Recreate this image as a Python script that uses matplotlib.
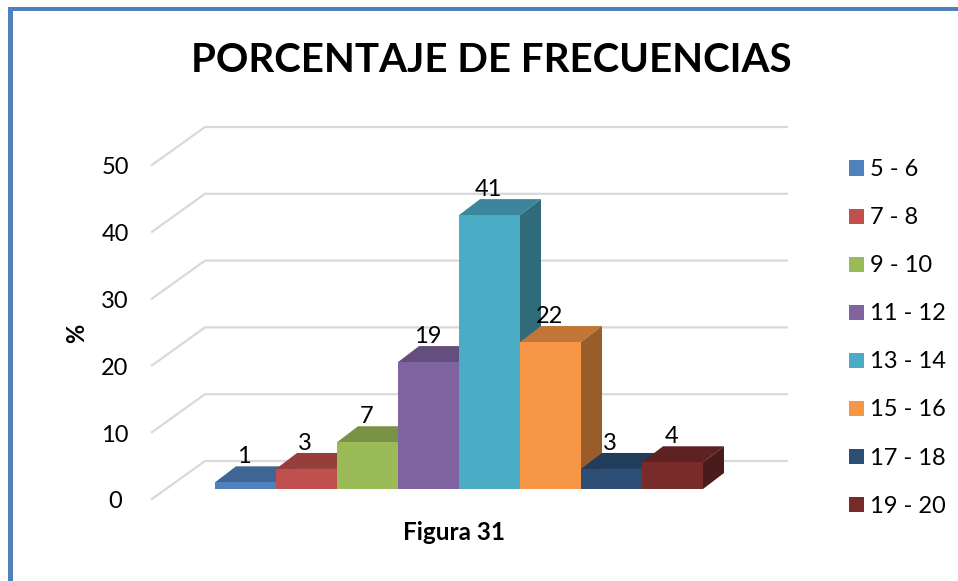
import matplotlib
matplotlib.use("Agg")
import matplotlib.pyplot as plt
from matplotlib.colors import to_rgb
from matplotlib.patches import Polygon, Rectangle

plt.rcParams['font.family'] = ['Lato', 'DejaVu Sans']

W, H = 958, 581

categories = ['5 - 6', '7 - 8', '9 - 10', '11 - 12', '13 - 14', '15 - 16', '17 - 18', '19 - 20']
values = [1, 3, 7, 19, 41, 22, 3, 4]
colors = ['#4F81BD', '#C0504D', '#9BBB59', '#8064A2', '#4BACC6', '#F79646', '#2C4D75', '#772C2A']
y_ticks = [0, 10, 20, 30, 40, 50]

# pixels per category / per percent, and where x=0,y=0 of the bars fall
px_x, px_y = 61, 6.68
x0_px, y0_px = 215, 489
dx, dy = 21 / px_x, 16 / px_y   # depth of the bars

fig = plt.figure(figsize=(W / 100, H / 100), dpi=100)
ax = fig.add_axes([0, 0, 1, 1])
ax.set_xlim(-x0_px / px_x, (W - x0_px) / px_x)
ax.set_ylim((y0_px - H) / px_y, y0_px / px_y)
ax.axis('off')


def fx(px):
    return px / W


def fy(px):
    return 1 - px / H


def shade(c, k):
    return tuple(v * k for v in to_rgb(c))


# wall grid
front_x, front_y = -63 / px_x, -10 / px_y
back_x, back_y = -10 / px_x, 28 / px_y
right_x = (787 - x0_px) / px_x
for t in y_ticks:
    ax.plot([front_x, back_x, right_x], [t + front_y, t + back_y, t + back_y],
            color='#D9D9D9', lw=1.6, solid_joinstyle='miter', zorder=1)
    fig.text(fx(115), fy(y0_px + 13 - t * px_y), str(t), ha='center', va='center',
             fontsize=17, color='black')

# bars, left to right so the next one covers the side of the last
for i, (v, c) in enumerate(zip(values, colors)):
    ax.add_patch(Polygon([(i, v), (i + 1, v), (i + 1 + dx, v + dy), (i + dx, v + dy)],
                         fc=shade(c, 0.78), ec='none', zorder=2))
    ax.add_patch(Polygon([(i + 1, 0), (i + 1 + dx, dy), (i + 1 + dx, v + dy), (i + 1, v)],
                         fc=shade(c, 0.62), ec='none', zorder=2))
    ax.add_patch(Rectangle((i, 0), 1, v, fc=c, ec='none', zorder=2))
    ax.text(i + 0.48, v + 25.5 / px_y, str(v), ha='center', va='center', fontsize=17,
            color='black', zorder=3)

# legend
for i, (name, c) in enumerate(zip(categories, colors)):
    yc = 168 + i * 48.1
    fig.add_artist(Rectangle((fx(849), fy(yc + 7.5)), 15 / W, 15 / H, fc=c, ec='none',
                             transform=fig.transFigure))
    fig.text(fx(870), fy(yc + 1.5), name, ha='left', va='center', fontsize=17, color='black')

fig.text(fx(491), fy(61), 'PORCENTAJE DE FRECUENCIAS', ha='center', va='center',
         fontsize=29, fontweight='bold', color='black')
fig.text(fx(77), fy(333), '%', rotation=90, ha='center', va='center', fontsize=17,
         fontweight='bold', color='black')
fig.text(fx(454), fy(533), 'Figura 31', ha='center', va='center', fontsize=17.5,
         fontweight='bold', color='black')

# slide frame, only left and top edges show
fig.add_artist(Rectangle((fx(8), 0), 5 / W, 1 - 7 / H, fc='#4F81BD', ec='none',
                         transform=fig.transFigure))
fig.add_artist(Rectangle((fx(8), fy(11)), 1 - 8 / W, 4 / H, fc='#4F81BD', ec='none',
                         transform=fig.transFigure))

fig.savefig('out.png', dpi=100, facecolor='white')
